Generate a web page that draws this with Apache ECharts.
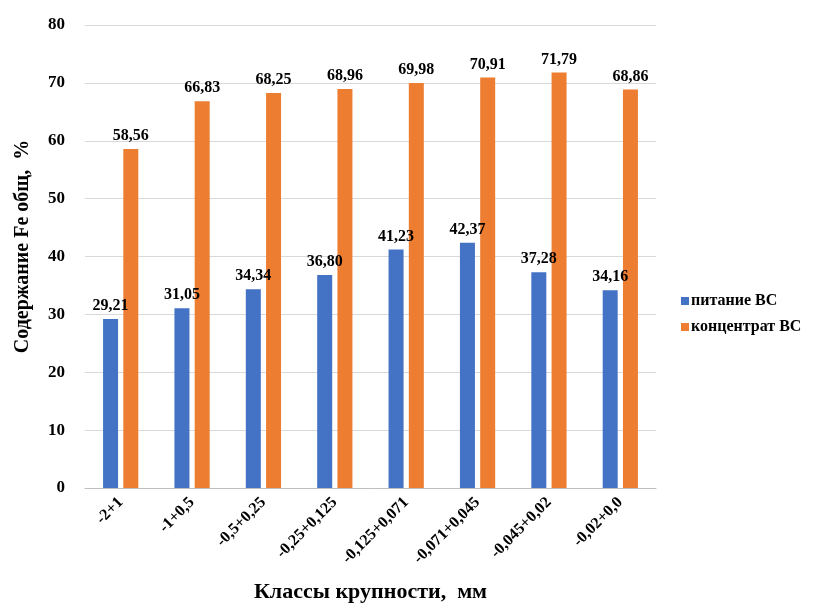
<!DOCTYPE html>
<html>
<head>
<meta charset="utf-8">
<script src="https://cdn.jsdelivr.net/npm/echarts@6/dist/echarts.min.js"></script>
<style>
  html, body { margin: 0; padding: 0; background: #fff; }
  #chart { width: 818px; height: 609px; }
</style>
</head>
<body>
<div id="chart"></div>
<script>
const categories = ['-2+1', '-1+0,5', '-0,5+0,25', '-0,25+0,125', '-0,125+0,071', '-0,071+0,045', '-0,045+0,02', '-0,02+0,0'];
const feedValues = [29.21, 31.05, 34.34, 36.80, 41.23, 42.37, 37.28, 34.16];
const concValues = [58.56, 66.83, 68.25, 68.96, 69.98, 70.91, 71.79, 68.86];
const seriesNames = ['питание ВС', 'концентрат ВС'];

const font = 'Liberation Serif';

const chart = echarts.init(document.getElementById('chart'));

function fmt(p) {
  return p.value.toFixed(2).replace('.', ',');
}

const labelStyle = {
  show: true,
  position: 'top',
  distance: 5,
  formatter: fmt,
  fontFamily: font,
  fontWeight: 'bold',
  fontSize: 16,
  color: '#000'
};

chart.setOption({
  animation: false,
  textStyle: { fontFamily: font },
  grid: { left: 85, right: 162, top: 25, bottom: 121, containLabel: false, outerBoundsMode: 'none' },
  legend: {
    orient: 'vertical',
    left: 676,
    top: 288,
    itemWidth: 8,
    itemHeight: 8,
    itemGap: 10,
    icon: 'rect',
    textStyle: { fontFamily: font, fontWeight: 'bold', fontSize: 16, color: '#000', padding: [0, 0, 0, -3] },
    data: seriesNames
  },
  xAxis: {
    type: 'category',
    data: categories,
    name: 'Классы крупности,  мм',
    nameLocation: 'middle',
    nameGap: 93,
    nameTextStyle: { fontFamily: font, fontWeight: 'bold', fontSize: 22, color: '#000' },
    axisLine: { lineStyle: { color: '#bfbfbf' } },
    axisTick: { show: false },
    axisLabel: {
      rotate: 45,
      interval: 0,
      margin: 12,
      fontFamily: font,
      fontWeight: 'bold',
      fontSize: 16,
      color: '#000'
    }
  },
  yAxis: {
    type: 'value',
    min: 0,
    max: 80,
    interval: 10,
    name: 'Содержание Fe общ,  %',
    nameLocation: 'middle',
    nameGap: 52,
    nameTextStyle: { fontFamily: font, fontWeight: 'bold', fontSize: 20, color: '#000', padding: [0, 0, 0, 20] },
    axisLine: { show: false },
    axisTick: { show: false },
    axisLabel: { fontFamily: font, fontWeight: 'bold', fontSize: 17, color: '#000', margin: 20 },
    splitLine: { lineStyle: { color: '#d9d9d9' } }
  },
  series: [
    {
      name: seriesNames[0],
      type: 'bar',
      data: feedValues,
      barWidth: 15,
      barGap: '35%',
      itemStyle: { color: '#4472C4' },
      label: labelStyle
    },
    {
      name: seriesNames[1],
      type: 'bar',
      data: concValues,
      barWidth: 15,
      barGap: '35%',
      itemStyle: { color: '#ED7D31' },
      label: labelStyle
    }
  ]
});
</script>
</body>
</html>
